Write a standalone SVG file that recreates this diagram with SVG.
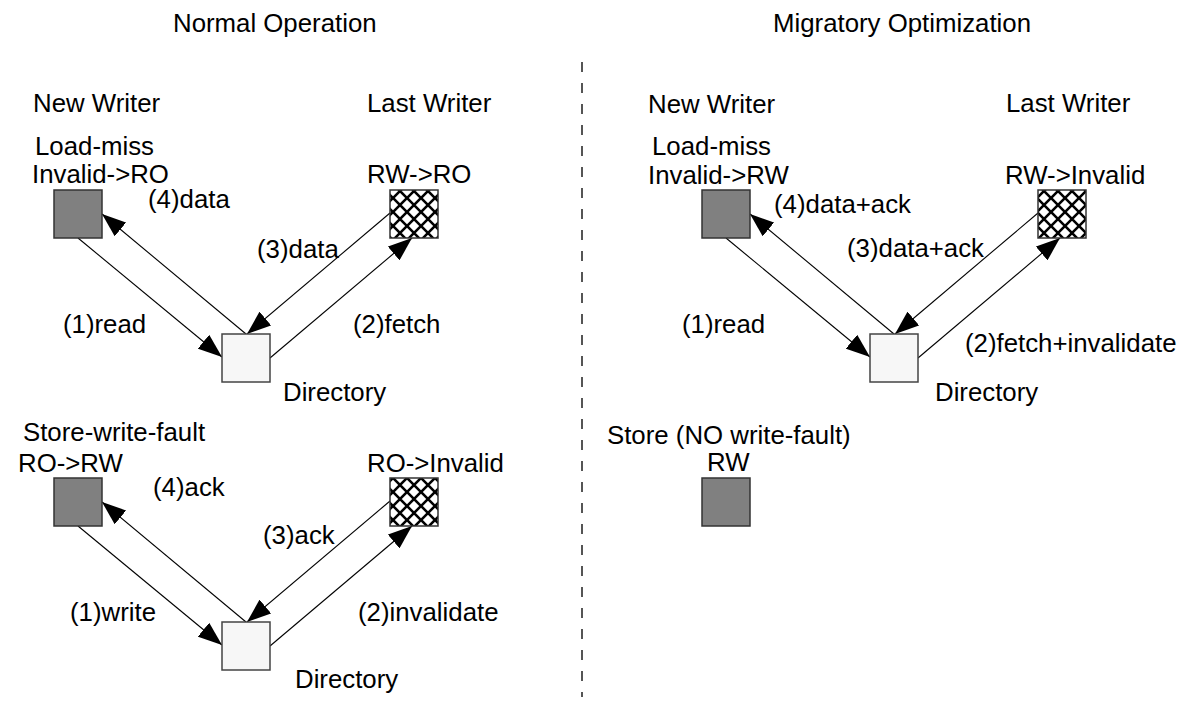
<svg xmlns="http://www.w3.org/2000/svg" width="1187" height="704" viewBox="0 0 1187 704">
<style>
text{font-family:"Liberation Sans",Arial,sans-serif;font-size:25.8px;fill:#000}
.nw{fill:#808080;stroke:#333;stroke-width:1.5}
.lw{fill:url(#hatch);stroke:#333;stroke-width:1.5}
.dir{fill:#f7f7f7;stroke:#444;stroke-width:1.5}
.c{stroke:#000;stroke-width:1.1;fill:none;marker-end:url(#ah)}
</style>
<defs>
<marker id="ah" markerUnits="userSpaceOnUse" markerWidth="25" markerHeight="18" refX="24" refY="9" orient="auto">
<path d="M0,0 L24,9 L0,18 z" fill="#000"/>
</marker>
<pattern id="hatch" patternUnits="userSpaceOnUse" width="14" height="14" x="1" y="2">
<rect width="14" height="14" fill="#fff"/>
<path d="M-1,-1 L15,15 M-1,15 L15,-1" stroke="#000" stroke-width="2.6"/>
</pattern>
</defs>
<rect width="1187" height="704" fill="#fff"/>

<text x="173" y="32">Normal Operation</text>
<text x="773" y="32">Migratory Optimization</text>
<line x1="582" y1="62" x2="582" y2="697" stroke="#555" stroke-width="2" stroke-dasharray="10,11"/>

<g id="connectors">
<line class="c" x1="78" y1="238" x2="222" y2="357"/>
<line class="c" x1="246" y1="334" x2="102" y2="214"/>
<line class="c" x1="390" y1="213" x2="247" y2="334"/>
<line class="c" x1="270" y1="358" x2="412" y2="238"/>
<line class="c" x1="78" y1="526" x2="222" y2="645"/>
<line class="c" x1="246" y1="622" x2="102" y2="502"/>
<line class="c" x1="390" y1="501" x2="247" y2="622"/>
<line class="c" x1="270" y1="646" x2="412" y2="526"/>
<line class="c" x1="726" y1="238" x2="870" y2="357"/>
<line class="c" x1="894" y1="334" x2="750" y2="214"/>
<line class="c" x1="1038" y1="213" x2="895" y2="334"/>
<line class="c" x1="918" y1="358" x2="1060" y2="238"/>
</g>

<g id="normal-top">
<text x="33" y="112">New Writer</text>
<text x="367" y="112">Last Writer</text>
<g id="nt-newwriter">
<text x="35" y="155">Load-miss</text>
<text x="32" y="183">Invalid-&gt;RO</text>
<rect class="nw" x="54" y="190" width="48" height="48"/>
</g>
<g id="nt-lastwriter">
<text x="367" y="183">RW-&gt;RO</text>
<rect class="lw" x="390" y="190" width="48" height="48"/>
</g>
<g id="nt-directory">
<rect class="dir" x="222" y="334" width="48" height="48"/>
<text x="283" y="401">Directory</text>
</g>
<text x="148" y="208">(4)data</text>
<text x="257" y="258">(3)data</text>
<text x="63" y="333">(1)read</text>
<text x="353" y="333">(2)fetch</text>
</g>

<g id="normal-bottom">
<g id="nb-newwriter">
<text x="23" y="441">Store-write-fault</text>
<text x="18" y="472">RO-&gt;RW</text>
<rect class="nw" x="54" y="478" width="48" height="48"/>
</g>
<g id="nb-lastwriter">
<text x="367" y="472">RO-&gt;Invalid</text>
<rect class="lw" x="390" y="478" width="48" height="48"/>
</g>
<g id="nb-directory">
<rect class="dir" x="222" y="622" width="48" height="48"/>
<text x="295" y="688">Directory</text>
</g>
<text x="153" y="496">(4)ack</text>
<text x="263" y="544">(3)ack</text>
<text x="70" y="621">(1)write</text>
<text x="358" y="621">(2)invalidate</text>
</g>

<g id="migratory-top">
<text x="648" y="113">New Writer</text>
<text x="1006" y="112">Last Writer</text>
<g id="mt-newwriter">
<text x="652" y="155">Load-miss</text>
<text x="648" y="184">Invalid-&gt;RW</text>
<rect class="nw" x="702" y="190" width="48" height="48"/>
</g>
<g id="mt-lastwriter">
<text x="1005" y="184">RW-&gt;Invalid</text>
<rect class="lw" x="1038" y="190" width="48" height="48"/>
</g>
<g id="mt-directory">
<rect class="dir" x="870" y="334" width="48" height="48"/>
<text x="935" y="401">Directory</text>
</g>
<text x="774" y="213">(4)data+ack</text>
<text x="847" y="257">(3)data+ack</text>
<text x="682" y="333">(1)read</text>
<text x="965" y="352">(2)fetch+invalidate</text>
</g>

<g id="migratory-store">
<text x="607" y="444">Store (NO write-fault)</text>
<text x="707" y="471">RW</text>
<rect class="nw" x="702" y="478" width="48" height="48"/>
</g>
</svg>
